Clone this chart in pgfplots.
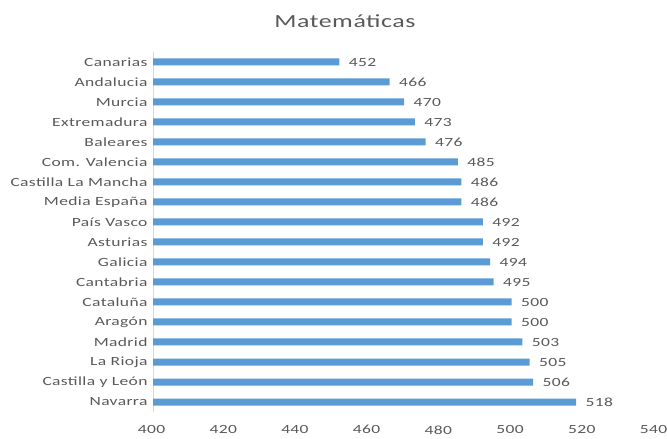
\documentclass[border=0pt]{standalone}
\usepackage{pgfplots}
\pgfplotsset{compat=1.18}
\usepackage{fontspec}
\setmainfont{Carlito}[FakeStretch=1.4, LetterSpace=3]
\definecolor{barblue}{HTML}{5B9BD5}
\definecolor{txt}{HTML}{595959}
\definecolor{axgray}{HTML}{D9D9D9}
\begin{document}
\begin{tikzpicture}[x=1bp,y=1bp]
\useasboundingbox (0,0) rectangle (667,439);
\begin{axis}[%
at={(153bp,27bp)},
anchor=south west,
width=502bp,
height=360bp,
scale only axis,
xmin=400, xmax=540,
xtick={400,420,...,540},
ymin=-0.5, ymax=17.5,
y dir=reverse,
ytick={0,...,17},
yticklabels={Canarias,Andalucia,Murcia,Extremadura,Baleares,Com. Valencia,Castilla La Mancha,Media España,País Vasco,Asturias,Galicia,Cantabria,Cataluña,Aragón,Madrid,La Rioja,Castilla y León,Navarra},
axis lines=left,
separate axis lines,
x axis line style={draw=none},
y axis line style={draw=axgray, line width=1bp, -},
major tick length=0pt,
tick label style={font=\fontsize{12.5bp}{13bp}\selectfont, text=txt},
/pgf/number format/assume math mode=true,
xticklabel style={yshift=-10bp, xshift=-1.5bp},
yticklabel style={xshift=-2bp},
xbar,
bar width=7bp,
nodes near coords,
point meta=explicit symbolic,
every node near coord/.append style={font=\fontsize{12.5bp}{13bp}\selectfont, text=txt, anchor=west, xshift=6bp},
]
\addplot [fill=barblue, draw=none] table [meta index=0, x index=0, y index=1, row sep=crcr] {
452 0\\
466 1\\
470 2\\
473 3\\
476 4\\
485 5\\
486 6\\
486 7\\
492 8\\
492 9\\
494 10\\
495 11\\
500 12\\
500 13\\
503 14\\
505 15\\
506 16\\
518 17\\
};
\end{axis}
\node[text=txt, font=\fontsize{18.5bp}{20bp}\selectfont] at (345,418) {Matemáticas};
\end{tikzpicture}
\end{document}
